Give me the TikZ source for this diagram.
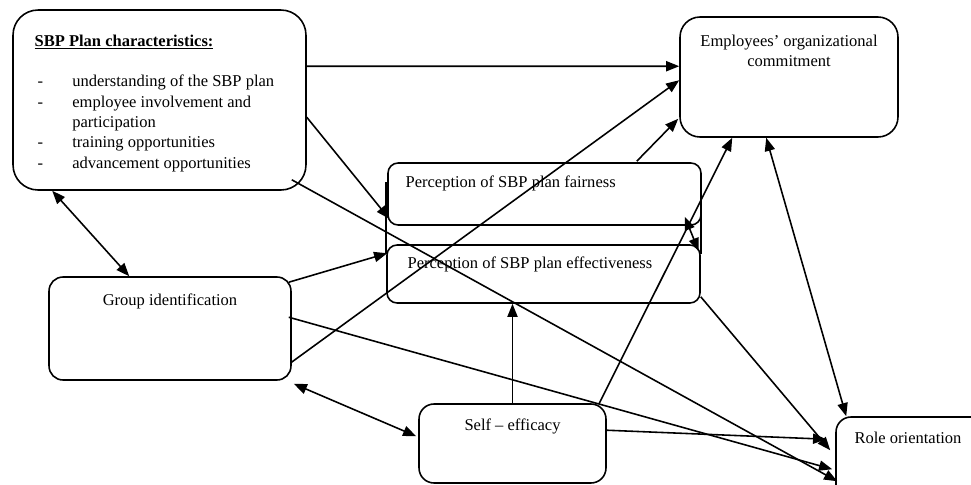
\documentclass[tikz,border=0pt]{standalone}
\usepackage{fontspec}
\setmainfont{Liberation Serif}
\usepackage{tikz}
\usetikzlibrary{arrows.meta, calc, positioning}
\newcommand{\sbpdash}{\hspace*{1.7pt}\makebox[19.8pt][l]{-}}

\begin{document}
\begin{tikzpicture}[x=0.02cm, y=-0.02cm,
  box/.style={draw, line width=0.9pt, rounded corners=#1, inner sep=0pt},
  txt/.style={inner sep=0pt, font=\fontsize{9.4}{11.6}\selectfont},
  link/.style={line width=0.9pt, -{Triangle[length=7.5pt, width=5.8pt]}},
  both/.style={line width=0.9pt, {Triangle[length=7.5pt, width=5.8pt]}-{Triangle[length=7.5pt, width=5.8pt]}}]
  \useasboundingbox (0,0) rectangle (971,484);
  \clip (0,0) rectangle (971,484);

  % Boxes
  \node[box=0.5cm, minimum width=5.86cm, minimum height=3.6cm] (sbp) at (159.5,100) {};
  \node[box=0.4cm, minimum width=4.36cm, minimum height=2.4cm] (emp) at (789,77) {};
  \node[box=0.2cm, minimum width=6.26cm, minimum height=1.24cm] (fair) at (544.5,194) {};
  \node[box=0.2cm, minimum width=6.26cm, minimum height=1.16cm] (eff) at (543.5,274) {};
  \node[box=0.28cm, minimum width=4.84cm, minimum height=2.06cm] (grp) at (170,328.5) {};
  \node[box=0.3cm, minimum width=3.74cm, minimum height=1.58cm] (self) at (512.5,443.5) {};
  \node[box=0.3cm, minimum width=3.28cm, minimum height=1.66cm] (role) at (918,458.5) {};

  % Texts
  \node[txt, anchor=north west, align=left] (sbptxt) at ($(sbp.north west)+(22,25)$) {
    \underline{\textbf{SBP Plan characteristics:}}\\[11.6pt]
    \sbpdash understanding of the SBP plan\\
    \sbpdash employee involvement and\\
    \hspace*{21.5pt}participation\\
    \sbpdash training opportunities\\
    \sbpdash advancement opportunities
  };
  \node[txt, anchor=north, align=center] (emptxt) at ($(emp.north)+(0,18)$) {Employees’ organizational\\commitment};
  \node[txt, anchor=north west] (fairtxt) at ($(fair.north west)+(18,13)$) {Perception of SBP plan fairness};
  \node[txt, anchor=north west] (efftxt) at ($(eff.north west)+(21,12)$) {Perception of SBP plan effectiveness};
  \node[txt, anchor=north] (grptxt) at ($(grp.north)+(0,17)$) {Group identification};
  \node[txt, anchor=north] (selftxt) at ($(self.north)+(0,15)$) {Self – efficacy};
  \node[txt, anchor=north west] (roletxt) at ($(role.north west)+(19,15)$) {Role orientation};

  % side lines between the two perception boxes
  \draw[line width=0.9pt] ($(eff.north west)+(0,-62)$) -- ($(eff.north west)+(0,10)$);
  \draw[line width=0.9pt] ($(eff.north east)+(0,-38)$) -- ($(eff.north east)+(0,10)$);

  % Links
  \draw[link] ($(sbp.north east)+(0,57)$) -- ($(emp.north west)+(0,50)$);
  \draw[link] ($(sbp.north east)+(0,108)$) -- ($(fair.south west)+(2,-7)$);
  \draw[link] ($(sbp.south east)+(-15,-11)$) -- ($(role.north west)+(2,65)$);
  \draw[both] ($(sbp.south west)+(40,0)$) -- ($(grp.north west)+(81,0)$);
  \draw[link] ($(grp.north east)+(-3,6)$) -- ($(eff.north west)+(1,9)$);
  \draw[link] ($(grp.south east)+(-1,-18)$) -- ($(emp.north west)+(0,64)$);
  \draw[link] ($(grp.north east)+(-3,41)$) -- ($(role.north west)+(-3,53)$);
  \draw[both] ($(grp.south east)+(2,3)$) -- ($(self.north west)+(-2,33)$);
  \draw[link] ($(fair.north east)+(-65,-1)$) -- ($(emp.south west)+(-1,-19)$);
  \draw[both] ($(fair.south east)+(-17,-9)$) -- ($(eff.north east)+(-2,7)$);
  \draw[link] ($(eff.south east)+(0,-7)$) -- ($(role.north west)+(-5,34)$);
  \draw[link] (self.north) -- (self.north |- eff.south);
  \draw[link] ($(self.north east)+(-8,1)$) -- ($(emp.south west)+(53,0)$);
  \draw[link] ($(self.north east)+(0,27)$) -- ($(role.north west)+(-9,23)$);
  \draw[both] ($(emp.south west)+(87,0)$) -- ($(role.north west)+(11,0)$);
\end{tikzpicture}
\end{document}
